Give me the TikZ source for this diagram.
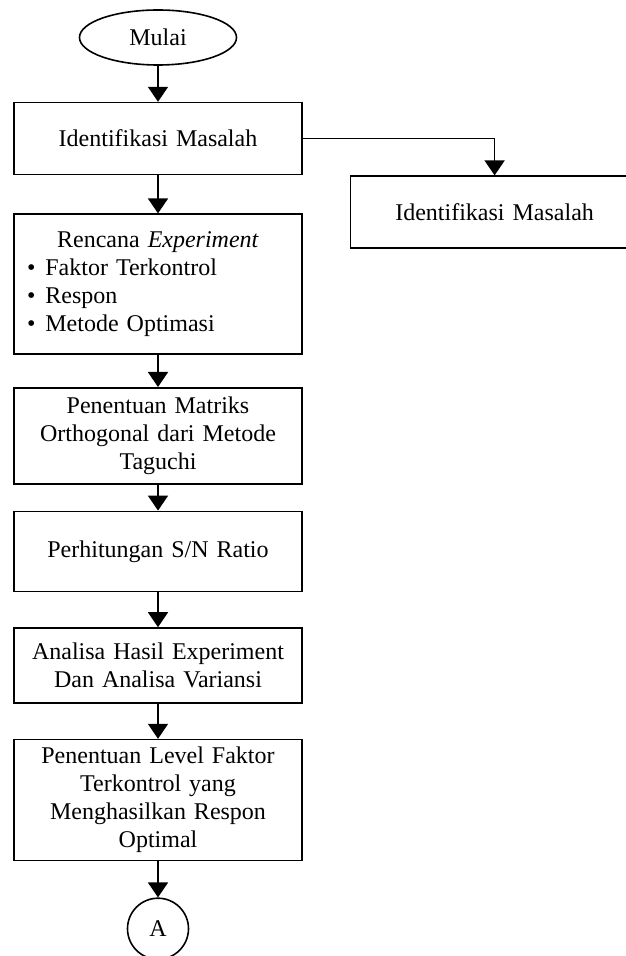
\documentclass[tikz,border=0pt]{standalone}
\usepackage{fontspec}
\setmainfont{Liberation Serif}
\usetikzlibrary{positioning, shapes.geometric, arrows.meta}

\begin{document}
\begin{tikzpicture}[x=0.5pt, y=-0.5pt, node distance=18pt,
		every node/.style={font=\fontsize{12}{14}\selectfont},
		box/.style={rectangle, draw, line width=0.8pt, minimum width=144pt, text width=136pt, inner xsep=4pt, inner ysep=2pt, align=center},
		term/.style={ellipse, draw, line width=0.8pt, minimum width=78.5pt, minimum height=27.5pt, inner sep=0pt},
		conn/.style={circle, draw, line width=0.8pt, minimum size=30.5pt, inner sep=0pt},
		arr/.style={-{Triangle[width=10pt, length=7.5pt]}, line width=0.8pt}]
		\useasboundingbox (0,0) rectangle (625,956);

		\node [term] (mulai) at (158,37.5) {Mulai};
		\node [box, minimum height=36pt, below=of mulai] (masalah) {Identifikasi Masalah};
		\node [box, minimum height=36pt, below right=0pt and 23.5pt of masalah] (masalah2) {Identifikasi Masalah};
		\node [box, align=left, minimum height=70pt, below=19pt of masalah] (rencana) {\makebox[136pt]{Rencana \textit{Experiment}}\\
			\hspace*{2.5pt}\textbullet\hspace{5pt}Faktor Terkontrol\\
			\hspace*{2.5pt}\textbullet\hspace{5pt}Respon\\
			\hspace*{2.5pt}\textbullet\hspace{5pt}Metode Optimasi};
		\node [box, minimum height=48pt, below=16pt of rencana] (matriks) {Penentuan Matriks\\ Orthogonal dari Metode\\ Taguchi};
		\node [box, minimum height=40pt, below=13pt of matriks] (snratio) {Perhitungan S/N Ratio};
		\node [box, minimum height=37.5pt, below=17.5pt of snratio] (analisa) {Analisa Hasil Experiment\\ Dan Analisa Variansi};
		\node [box, minimum height=60.5pt, below=17.5pt of analisa] (level) {Penentuan Level Faktor\\ Terkontrol yang\\ Menghasilkan Respon\\ Optimal};
		\node [conn, below=18pt of level] (A) {A};

		\path[arr] (mulai) edge (masalah);
		\path[arr] (masalah) edge (rencana);
		\path[arr] (rencana) edge (matriks);
		\path[arr] (matriks) edge (snratio);
		\path[arr] (snratio) edge (analisa);
		\path[arr] (analisa) edge (level);
		\path[arr] (level) edge (A);
		\draw[arr] (masalah.east) -| (masalah2.north);
	\end{tikzpicture}
\end{document}
